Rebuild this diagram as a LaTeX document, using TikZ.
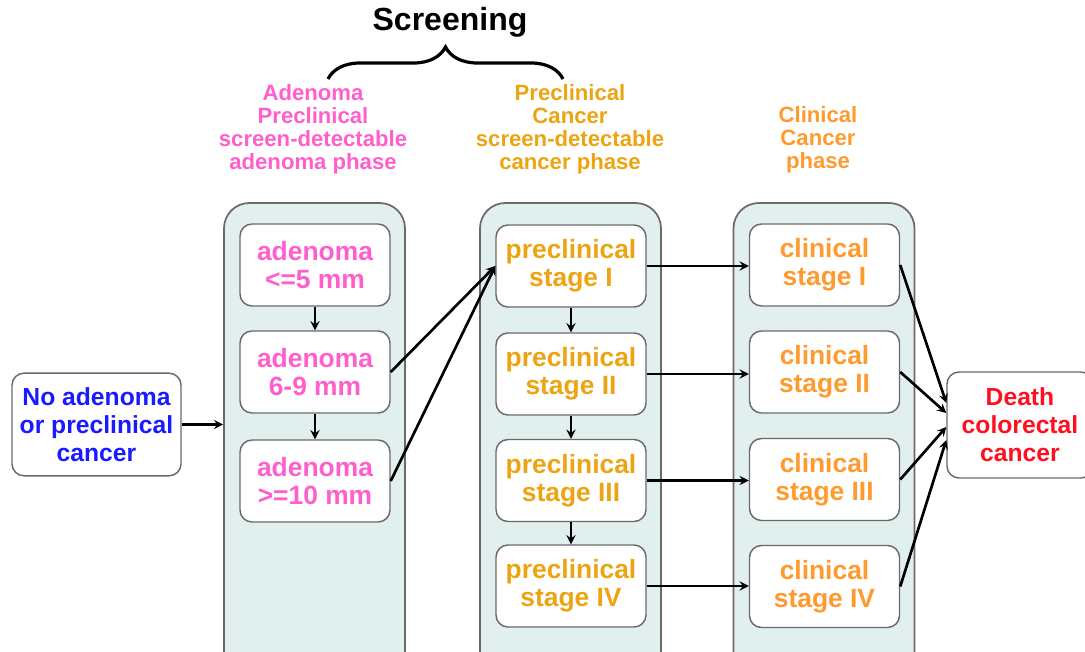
\documentclass[tikz,border=0pt]{standalone}
\usepackage{fontspec}
\setmainfont{Liberation Sans}
\usetikzlibrary{calc, decorations.pathreplacing}
\definecolor{adpink}{HTML}{FF5FCC}
\definecolor{pregold}{HTML}{EDA412}
\definecolor{clinorange}{HTML}{FF9A2E}
\definecolor{noblue}{HTML}{1A1AFF}
\definecolor{deathred}{HTML}{FF1020}
\definecolor{grpfill}{HTML}{E2EFEF}
\definecolor{boxgrey}{HTML}{6A6A6A}

\begin{document}
\begin{tikzpicture}[x=0.75pt, y=-0.75pt, >=stealth,
  box/.style={draw=boxgrey, line width=1.1pt, rounded corners=9pt, fill=white,
    minimum width=112.5pt, minimum height=61.5pt, align=center,
    font=\bfseries\fontsize{19.8}{21}\selectfont},
  grp/.style={draw=boxgrey, line width=1.3pt, fill=grpfill, rounded corners=19pt,
    minimum width=135.75pt, minimum height=360pt},
  head/.style={align=center, font=\bfseries\fontsize{16.6}{17.3}\selectfont},
  arr/.style={->, line width=2pt}]
\path[use as bounding box, clip] (0,0) rectangle (1085,652);

\node[font=\bfseries\fontsize{24}{26}\selectfont] (scr) at (450,22) {Screening};
\draw[line width=2.4pt, decorate, decoration={brace, amplitude=24pt}] (328,79) -- (563,79);

\node[head, text=adpink] (hd1) at (313,129) {Adenoma\\Preclinical\\screen-detectable\\adenoma phase};
\node[head, text=pregold] (hd2) at (570,129) {Preclinical\\Cancer\\screen-detectable\\cancer phase};
\node[head, text=clinorange] (hd3) at (818,140) {Clinical\\Cancer\\phase};

\node[grp] (g1) at (314.5,443) {};
\node[grp] (g2) at (570.5,443) {};
\node[grp] (g3) at (824,443) {};

\node[box, text=noblue, minimum width=126.75pt, minimum height=77pt,
  font=\bfseries\fontsize{18.5}{21}\selectfont] (noad) at (96.5,424.5) {No adenoma\\or preclinical\\cancer};

\node[box, text=adpink] (ad1) at (315,265) {adenoma\\<=5 mm};
\node[box, text=adpink] (ad2) at (315,372) {adenoma\\6-9 mm};
\node[box, text=adpink] (ad3) at (315,481) {adenoma\\>=10 mm};

\node[box, text=pregold] (pre1) at (571,266) {preclinical\\stage I};
\node[box, text=pregold] (pre2) at (571,374) {preclinical\\stage II};
\node[box, text=pregold] (pre3) at (571,480.5) {preclinical\\stage III};
\node[box, text=pregold] (pre4) at (571,586) {preclinical\\stage IV};

\node[box, text=clinorange] (cl1) at (824.5,265) {clinical\\stage I};
\node[box, text=clinorange] (cl2) at (824.5,372) {clinical\\stage II};
\node[box, text=clinorange] (cl3) at (824.5,479.5) {clinical\\stage III};
\node[box, text=clinorange] (cl4) at (824.5,586.5) {clinical\\stage IV};

\node[box, text=deathred, minimum width=109.5pt, minimum height=79.5pt,
  font=\bfseries\fontsize{18.5}{21}\selectfont] (death) at (1020,425) {Death\\colorectal\\cancer};

\draw[arr] (noad.east) -- (noad.east -| g1.west);
\draw[arr] (ad1) -- (ad2);
\draw[arr] (ad2) -- (ad3);
\draw[arr] (ad2.east) -- (pre1.west);
\draw[arr] (ad3.east) -- (pre1.west);
\draw[arr] (pre1) -- (pre2);
\draw[arr] (pre2) -- (pre3);
\draw[arr] (pre3) -- (pre4);
\draw[arr] (pre1.east) -- (pre1.east -| cl1.west);
\draw[arr] (pre2.east) -- (pre2.east -| cl2.west);
\draw[arr] (pre3.east) -- (pre3.east -| cl3.west);
\draw[arr] (pre4.east) -- (pre4.east -| cl4.west);
\draw[arr] (cl1.east) -- ($(death.west)+(0,-22)$);
\draw[arr] (cl2.east) -- ($(death.west)+(0,-12)$);
\draw[arr] (cl3.east) -- ($(death.west)+(0,2)$);
\draw[arr] (cl4.east) -- ($(death.west)+(0,15)$);
\end{tikzpicture}
\end{document}
